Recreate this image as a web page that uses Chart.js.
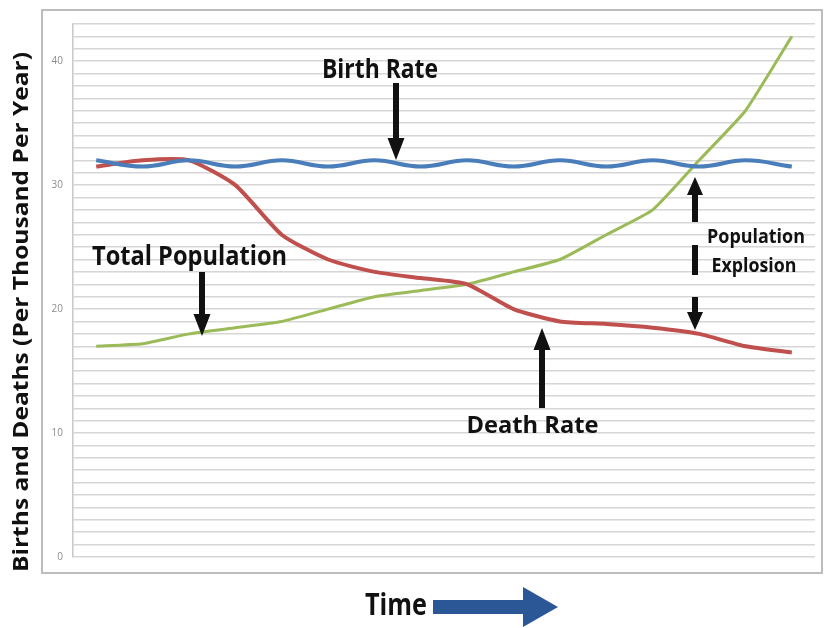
<!DOCTYPE html>
<html>
<head>
<meta charset="utf-8">
<script src="https://cdn.jsdelivr.net/npm/chart.js@4.4.1/dist/chart.umd.min.js"></script>
<style>
html,body{margin:0;padding:0;background:#fff;}
#wrap{width:825px;height:628px;position:relative;}
</style>
</head>
<body>
<div id="wrap"><canvas id="c" width="825" height="628"></canvas></div>
<script>
// ---- data ----
const categories = ['t1','t2','t3','t4','t5','t6','t7','t8','t9','t10','t11','t12','t13','t14','t15','t16'];
const birthRate = [32, 31.5, 32, 31.5, 32, 31.5, 32, 31.5, 32, 31.5, 32, 31.5, 32, 31.5, 32, 31.5];
const deathRate = [31.5, 32, 32, 30, 26, 24, 23, 22.5, 22, 20, 19, 18.8, 18.5, 18, 17, 16.5];
const totalPopulation = [17, 17.2, 18, 18.5, 19, 20, 21, 21.5, 22, 23, 24, 26, 28, 32, 36, 42];
const yTickLabels = [0, 10, 20, 30, 40];
const yMin = 0, yMax = 43;

const FONT = '"Open Sans", "DejaVu Sans", sans-serif';

function fitText(ctx, text, cx, baseline, cap, width, rot) {
  const size = cap / 0.714;
  ctx.save();
  ctx.font = 'bold ' + size + 'px ' + FONT;
  const w = ctx.measureText(text).width;
  const sx = width / w;
  ctx.translate(cx, baseline);
  if (rot) ctx.rotate(rot);
  ctx.scale(sx, 1);
  ctx.textAlign = 'center';
  ctx.textBaseline = 'alphabetic';
  ctx.fillStyle = '#111';
  ctx.fillText(text, 0, 0);
  ctx.restore();
}

function vArrow(ctx, x, tail, tip, shaft, headW, headLen) {
  const dir = tip > tail ? 1 : -1;
  const base = tip - dir * headLen;
  ctx.save();
  ctx.fillStyle = '#111';
  ctx.beginPath();
  ctx.moveTo(x - shaft / 2, tail);
  ctx.lineTo(x + shaft / 2, tail);
  ctx.lineTo(x + shaft / 2, base);
  ctx.lineTo(x + headW / 2, base);
  ctx.lineTo(x, tip);
  ctx.lineTo(x - headW / 2, base);
  ctx.lineTo(x - shaft / 2, base);
  ctx.closePath();
  ctx.fill();
  ctx.restore();
}

const annotations = {
  id: 'annotations',
  beforeDraw(chart) {
    const ctx = chart.ctx;
    ctx.save();
    ctx.fillStyle = '#fff';
    ctx.fillRect(0, 0, chart.width, chart.height);
    ctx.strokeStyle = '#bdbdbd';
    ctx.lineWidth = 2;
    ctx.strokeRect(42, 10, 780, 563);
    ctx.restore();
  },
  afterDraw(chart) {
    const ctx = chart.ctx;
    fitText(ctx, 'Birth Rate', 380, 78, 19.5, 116);
    fitText(ctx, 'Total Population', 189.5, 265, 18.5, 195);
    fitText(ctx, 'Death Rate', 532.5, 433, 17, 132);
    fitText(ctx, 'Population', 756, 243, 14.5, 98);
    fitText(ctx, 'Explosion', 754, 271.5, 14.5, 85);
    fitText(ctx, 'Time', 396, 615, 21.5, 62);
    fitText(ctx, 'Births and Deaths (Per Thousand Per Year)', 28, 312, 15, 520, -Math.PI / 2);

    vArrow(ctx, 396, 83, 160, 6, 17, 22);
    vArrow(ctx, 202, 272, 336, 6, 17, 22);
    vArrow(ctx, 542, 408, 328, 6, 17, 22);
    vArrow(ctx, 695, 222, 177, 6, 16, 18);
    vArrow(ctx, 695, 297, 330, 6, 16, 18);
    ctx.save();
    ctx.fillStyle = '#111';
    ctx.fillRect(692, 245, 6, 30);
    // Time arrow
    ctx.fillStyle = '#2b5797';
    ctx.beginPath();
    ctx.moveTo(433, 600);
    ctx.lineTo(523, 600);
    ctx.lineTo(523, 587);
    ctx.lineTo(558, 607);
    ctx.lineTo(523, 627);
    ctx.lineTo(523, 614);
    ctx.lineTo(433, 614);
    ctx.closePath();
    ctx.fill();
    ctx.restore();
  }
};

new Chart(document.getElementById('c'), {
  type: 'line',
  data: {
    labels: categories,
    datasets: [
      { label: 'Birth Rate', data: birthRate, borderColor: '#4a7ebb', borderWidth: 4, tension: 0.4, pointRadius: 0 },
      { label: 'Death Rate', data: deathRate, borderColor: '#c0504d', borderWidth: 4, tension: 0.2, pointRadius: 0 },
      { label: 'Total Population', data: totalPopulation, borderColor: '#9bbb59', borderWidth: 3, tension: 0.15, pointRadius: 0 }
    ]
  },
  options: {
    responsive: false,
    animation: false,
    layout: { padding: { top: 24, right: 10, left: 0, bottom: 0 } },
    plugins: { legend: { display: false }, tooltip: { enabled: false } },
    scales: {
      x: {
        type: 'category',
        offset: true,
        grid: { display: false },
        border: { display: false },
        ticks: { display: false },
        afterFit(s) { s.height = 71; }
      },
      y: {
        min: yMin, max: yMax,
        grid: { color: '#d6d6d6', lineWidth: 1.5, drawTicks: false },
        border: { display: true, color: '#c8c8c8', width: 1.5 },
        ticks: {
          stepSize: 1, autoSkip: false, padding: 10,
          color: '#8c8c8c', font: { size: 10, family: FONT },
          callback: v => yTickLabels.includes(v) ? String(v) : ''
        },
        afterFit(s) { s.width = 73; }
      }
    }
  },
  plugins: [annotations]
});
</script>
</body>
</html>
